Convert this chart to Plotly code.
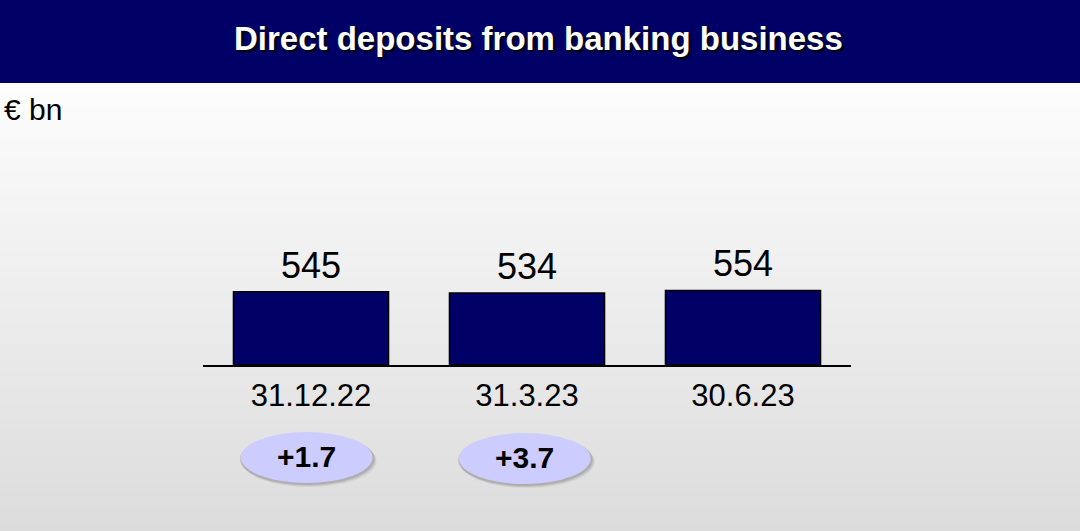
import plotly.graph_objects as go

# ---- data ----
dates = ["31.12.22", "31.3.23", "30.6.23"]
deposits = [545, 534, 554]          # € bn
change_dates = ["31.12.22", "31.3.23"]
changes = [1.7, 3.7]                # change shown in the badges
title_text = "Direct deposits from banking business"
unit_text = "€ bn"

# ---- canvas / layout geometry ----
W, H = 1080, 531
L, R, T, B = 203, 229, 225, 166
PW, PH = W - L - R, H - T - B
NAVY = "#000066"
FONT = "Liberation Sans, Arial, sans-serif"


def px_x(px):
    return (px - L) / PW


def px_y(py):
    return (H - B - py) / PH


shapes = []

# vertical background gradient (white to light grey)
top_px, n_bands = 83, 60
c_top, c_bot = 253, 220
for i in range(n_bands):
    y0 = top_px + (H - top_px) * i / n_bands
    y1 = top_px + (H - top_px) * (i + 1) / n_bands + 1
    c = round(c_top + (c_bot - c_top) * (i + 0.5) / n_bands)
    shapes.append(dict(type="rect", xref="paper", yref="paper",
                       x0=px_x(0), x1=px_x(W), y0=px_y(y1), y1=px_y(y0),
                       fillcolor=f"rgb({c},{c},{c})", line_width=0, layer="below"))

# title bar
shapes.append(dict(type="rect", xref="paper", yref="paper",
                   x0=px_x(0), x1=px_x(W), y0=px_y(83), y1=px_y(0),
                   fillcolor=NAVY, line_width=0, layer="below"))

# change badges (ellipses with a soft drop shadow)
idx = {d: i for i, d in enumerate(dates)}
badge_half_w = 0.305
badge_top, badge_bot = 432, 483
badge_offsets = [-0.02, -0.01]
badge_dy = [0, 1]
for d, off, dy in zip(change_dates, badge_offsets, badge_dy):
    cx = idx[d] + off
    for k, a in [(4, 0.08), (3, 0.12), (2, 0.18)]:
        shapes.append(dict(type="circle", xref="x", yref="paper",
                           x0=cx - badge_half_w + (k - 3) * 3 / PW,
                           x1=cx + badge_half_w + k * 3 / PW,
                           y0=px_y(badge_bot + dy + k), y1=px_y(badge_top + dy + k - 1),
                           fillcolor=f"rgba(80,80,80,{a})", line_width=0, layer="above"))
    shapes.append(dict(type="circle", xref="x", yref="paper",
                       x0=cx - badge_half_w, x1=cx + badge_half_w,
                       y0=px_y(badge_bot + dy), y1=px_y(badge_top + dy),
                       fillcolor="#ccccff", line_width=0, layer="above"))

annotations = []

# title with dark drop shadow
annotations.append(dict(text=f"<b>{title_text}</b>", xref="paper", yref="paper",
                        x=px_x(538), y=px_y(39), xanchor="center", yanchor="middle",
                        showarrow=False,
                        font=dict(family=FONT, size=33, color="#ffffff",
                                  shadow="2px 2px 2px rgba(0,0,0,0.95)")))

# unit label
annotations.append(dict(text=unit_text, xref="paper", yref="paper",
                        x=px_x(2), y=px_y(109), xanchor="left", yanchor="middle",
                        showarrow=False, font=dict(family=FONT, size=30, color="#000000")))

# value labels above the bars
for d, v in zip(dates, deposits):
    annotations.append(dict(text=str(v), x=d, y=v, xref="x", yref="y",
                            xanchor="center", yanchor="bottom", yshift=4, showarrow=False,
                            font=dict(family=FONT, size=36, color="#000000")))

# badge texts
for d, c, off, dy in zip(change_dates, changes, badge_offsets, badge_dy):
    annotations.append(dict(text=f"<b>{c:+.1f}</b>", x=idx[d] + off, xref="x", yref="paper",
                            y=px_y(456 + dy), xanchor="center", yanchor="middle",
                            showarrow=False,
                            font=dict(family=FONT, size=30, color="#000000")))

fig = go.Figure(go.Bar(
    x=dates, y=deposits,
    marker=dict(color=NAVY, line=dict(color="#000000", width=1.5)),
    hoverinfo="skip",
))

fig.update_layout(
    width=W, height=H,
    margin=dict(l=L, r=R, t=T, b=B, pad=0),
    paper_bgcolor="#ffffff", plot_bgcolor="rgba(0,0,0,0)",
    bargap=0.282, showlegend=False,
    shapes=shapes, annotations=annotations,
    font=dict(family=FONT, color="#000000"),
)
fig.update_xaxes(type="category", showline=True, linecolor="#000000", linewidth=2,
                 ticks="", showgrid=False, zeroline=False,
                 tickfont=dict(family=FONT, size=31, color="#000000"),
                 ticklabelstandoff=2)
fig.update_yaxes(range=[0, 1040], visible=False, showgrid=False, zeroline=False)

fig.write_html("out.html")
